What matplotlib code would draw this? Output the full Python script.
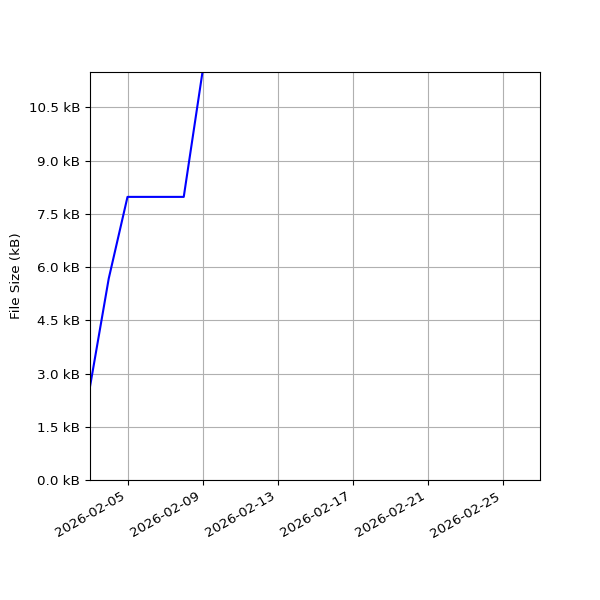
import matplotlib
matplotlib.use("Agg")
import matplotlib.pyplot as plt
import matplotlib.dates as mdates
from matplotlib.ticker import MultipleLocator, FuncFormatter
import numpy as np
import pandas as pd

dates = ["2026-02-03", "2026-02-04", "2026-02-05", "2026-02-08", "2026-02-09"]
sizes_kb = [2.63, 5.68, 7.98, 7.98, 11.5]

x = pd.to_datetime(dates)

plt.rcParams["font.size"] = 9.7
fig, ax = plt.subplots(figsize=(6, 6), dpi=100)
ax.plot(x, sizes_kb, color="blue", linewidth=1.5)
ax.set_ylabel("File Size (kB)")
ax.set_xlim(pd.Timestamp("2026-02-03"), pd.Timestamp("2026-02-27"))
ax.set_ylim(0, 11.5)
ax.yaxis.set_major_locator(MultipleLocator(1.5))
ax.yaxis.set_major_formatter(FuncFormatter(lambda v, p: f"{v:.1f} kB"))
ax.xaxis.set_major_locator(mdates.DayLocator(bymonthday=[1, 5, 9, 13, 17, 21, 25]))
ax.xaxis.set_major_formatter(mdates.DateFormatter("%Y-%m-%d"))
ax.grid(True, color="#b0b0b0")
fig.autofmt_xdate()
fig.subplots_adjust(left=0.15, right=0.9, bottom=0.2, top=0.88)
fig.savefig("out.png", dpi=100)
